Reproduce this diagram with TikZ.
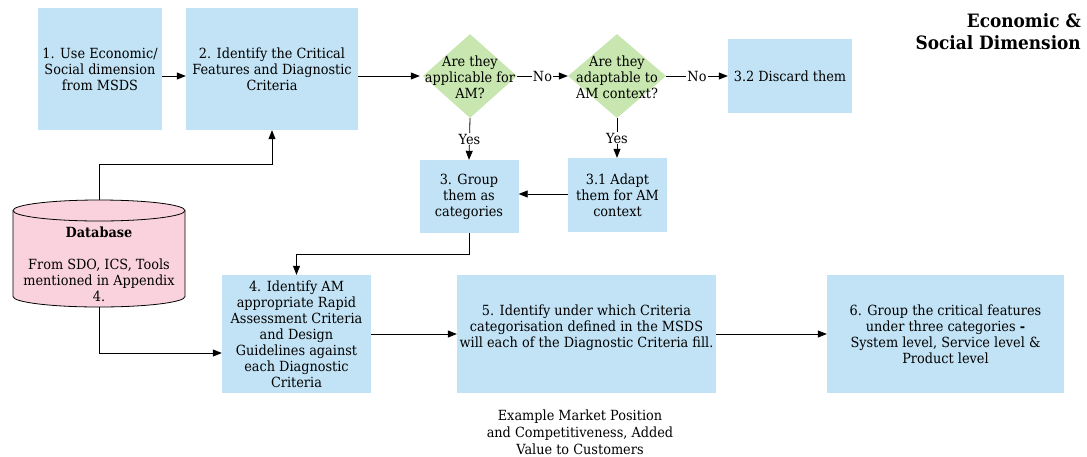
\documentclass[tikz,border=0pt]{standalone}
\usepackage{fontspec}
\setmainfont{DejaVu Serif}[FakeStretch=0.92]
\usetikzlibrary{arrows.meta,shapes.geometric,calc}
\definecolor{boxblue}{HTML}{C2E3F5}
\definecolor{dgreen}{HTML}{C8E6AF}
\definecolor{dbpink}{HTML}{F9D2DD}
\begin{document}
\begin{tikzpicture}[x=1pt,y=1pt,
  txt/.style={font=\fontsize{14}{16}\selectfont, align=center, inner sep=0},
  box/.style={txt, fill=boxblue},
  dia/.style={diamond, fill=dgreen, inner sep=0},
  arr/.style={-{Triangle[length=9pt,width=7pt]}, line width=0.8pt},
  lab/.style={txt, fill=white, inner sep=1pt}
]
\useasboundingbox (0,0) rectangle (1087,-456);
% boxes
\node[box, minimum width=124, minimum height=122] (b1) at (100,-69) {1. Use Economic/\\Social dimension\\from MSDS};
\node[box, minimum width=172, minimum height=122] (b2) at (272,-69) {2. Identify the Critical\\Features and Diagnostic\\Criteria};
\node[dia, minimum width=94, minimum height=84] (d1) at (470,-76) {};
\node[txt] (d1t) at (470,-77) {Are they\\applicable for\\AM?};
\node[dia, minimum width=98, minimum height=84] (d2) at (617,-76) {};
\node[txt] (d2t) at (617,-77) {Are they\\adaptable to\\AM context?};
\node[box, minimum width=124, minimum height=74] (b32) at (790,-76) {3.2 Discard them};
\node[box, minimum width=99, minimum height=73] (b3) at (469,-196.5) {3. Group\\them as\\categories};
\node[box, minimum width=99, minimum height=74] (b31) at (617.5,-195) {3.1 Adapt\\them for AM\\context};
\node[box, minimum width=149, minimum height=118] (b4) at (296.5,-334) {4. Identify AM\\appropriate Rapid\\Assessment Criteria\\and Design\\Guidelines against\\each Diagnostic\\Criteria};
\node[box, minimum width=259, minimum height=118] (b5) at (586.5,-334) {5. Identify under which Criteria\\categorisation defined in the MSDS\\will each of the Diagnostic Criteria fill.\\\mbox{}};
\node[box, minimum width=237, minimum height=118] (b6) at (945.5,-334) {6. Group the critical features\\under three categories \textbf{-}\\System level, Service level \&\\Product level};
% database cylinder
\fill[dbpink] (13,-210.5) -- (13,-296.5) arc[start angle=180,end angle=360,x radius=86,y radius=10.5] -- (185,-210.5) arc[start angle=0,end angle=180,x radius=86,y radius=10.5] -- cycle;
\draw[line width=0.8pt] (13,-210.5) -- (13,-296.5) arc[start angle=180,end angle=360,x radius=86,y radius=10.5] -- (185,-210.5) arc[start angle=0,end angle=180,x radius=86,y radius=10.5] -- cycle;
\draw[line width=0.8pt] (13,-210.5) arc[start angle=180,end angle=360,x radius=86,y radius=10.5];
\node[minimum width=172, minimum height=107, inner sep=0] (db) at (99,-253.5) {};
\node[txt] (dbt) at (99,-264) {\textbf{Database}\\\mbox{}\\From SDO, ICS, Tools\\mentioned in Appendix\\4.};
% notes
\node[txt, font=\fontsize{14}{16.8}\selectfont] (ex) at (580,-432) {Example Market Position\\and Competitiveness, Added\\Value to Customers};
\node[txt, font=\fontsize{18.4}{22}\selectfont\bfseries, align=right, anchor=north east] (title) at (1081,-13) {Economic \&\\Social Dimension};
% connectors
\draw[arr] (b1.east |- d1) -- (b2.west |- d1);
\draw[arr] (b2.east |- d1) -- ([xshift=-3pt]d1.west);
\draw[arr] (d1.east) -- node[lab] {No} (d2.west);
\draw[arr] (d2.east) -- node[lab] {No} (b32.west);
\draw[arr] (d1.south) -- node[lab] {Yes} (b3.north);
\draw[arr] (d2.south) -- node[lab] {Yes} (d2.south |- b31.north);
\draw[arr] (b31.west |- 0,-194) -- (b3.east |- 0,-194);
\draw[arr] (b3.south) -- ++(0,-21) -| (b4.north);
\draw[arr] (db.north) -- ++(0,35) -| (b2.south);
\draw[arr] (db.south) |- ([yshift=-19pt]b4.west);
\draw[arr] (b4.east) -- (b5.west);
\draw[arr] (b5.east) -- (b6.west);
\end{tikzpicture}
\end{document}
